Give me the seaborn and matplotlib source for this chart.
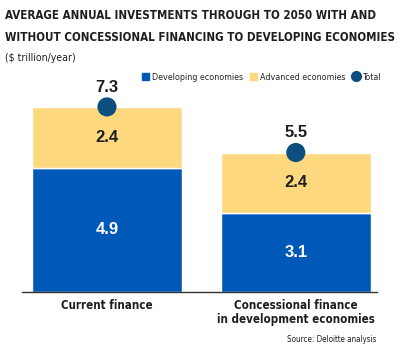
import matplotlib
matplotlib.use("Agg")
import matplotlib.pyplot as plt
import seaborn as sns
import pandas as pd
from matplotlib.patches import Patch
from matplotlib.lines import Line2D

sns.set_style("white")
plt.rcParams['font.family'] = ['DejaVu Sans']
plt.rcParams['font.stretch'] = 'condensed'

categories = ['Current finance', 'Concessional finance\nin development economies']
developing = [4.9, 3.1]
advanced = [2.4, 2.4]
total = [7.3, 5.5]

blue = '#0059B9'
yellow = '#FED87F'
navy = '#0C4E7E'
dark = '#1E1E1E'

df = pd.DataFrame({'cat': categories, 'dev': developing, 'adv': advanced, 'total': total})

fig = plt.figure(figsize=(4, 3.5), dpi=100)
ax = fig.add_axes([0.055, 0.166, 0.8875, 0.606])

sns.barplot(data=df, x='cat', y='dev', color=blue, width=0.794, ax=ax, saturation=1)
sns.barplot(data=df, x='cat', y='adv', bottom=df['dev'], color=yellow, width=0.794, ax=ax, saturation=1)
sns.scatterplot(x=[0, 1], y=df['total'], color=navy, s=190, edgecolor='none', zorder=5, ax=ax)

num_font = dict(fontsize=12, family='Liberation Sans', stretch='normal', weight='bold')
for i in range(len(df)):
    ax.text(i, df['dev'][i] / 2, f"{df['dev'][i]:.1f}", ha='center', va='center',
            color='white', **num_font)
    ax.text(i, df['dev'][i] + df['adv'][i] / 2, f"{df['adv'][i]:.1f}", ha='center', va='center',
            color=dark, **num_font)
    ax.text(i, df['total'][i] + 0.78, f"{df['total'][i]:.1f}", ha='center', va='center',
            color=dark, **num_font)

ax.set_xlim(-0.45, 1.43)
ax.set_ylim(0, 8.37)
ax.set_xlabel('')
ax.set_ylabel('')
ax.set_yticks([])
for s in ['top', 'right', 'left']:
    ax.spines[s].set_visible(False)
ax.spines['bottom'].set_color('#333333')
ax.spines['bottom'].set_linewidth(1)
ax.tick_params(axis='x', length=0, pad=5)
for lab in ax.get_xticklabels():
    lab.set_fontsize(8.3)
    lab.set_fontweight('bold')
    lab.set_color(dark)
    lab.set_linespacing(1.1)

fig.text(0.012, 0.955, 'AVERAGE ANNUAL INVESTMENTS THROUGH TO 2050 WITH AND',
         fontsize=8.3, weight='bold', color=dark, va='center')
fig.text(0.012, 0.893, 'WITHOUT CONCESSIONAL FINANCING TO DEVELOPING ECONOMIES',
         fontsize=8.3, weight='bold', color=dark, va='center')
fig.text(0.012, 0.834, '($ trillion/year)', fontsize=7.6, color=dark, va='center')
fig.text(0.94, 0.03, 'Source: Deloitte analysis', fontsize=5.8, color=dark, ha='right', va='center')

handles = [Patch(color=blue, label='Developing economies'),
           Patch(color=yellow, label='Advanced economies'),
           Line2D([], [], marker='o', linestyle='none', color=navy, markersize=7, label='Total')]
fig.legend(handles=handles, loc='center', bbox_to_anchor=(0.653, 0.78), ncol=3, frameon=False,
           fontsize=6.4, handlelength=0.8, handleheight=0.8, handletextpad=0.3, columnspacing=0.8,
           borderpad=0)

fig.savefig('out.png', dpi=100)
